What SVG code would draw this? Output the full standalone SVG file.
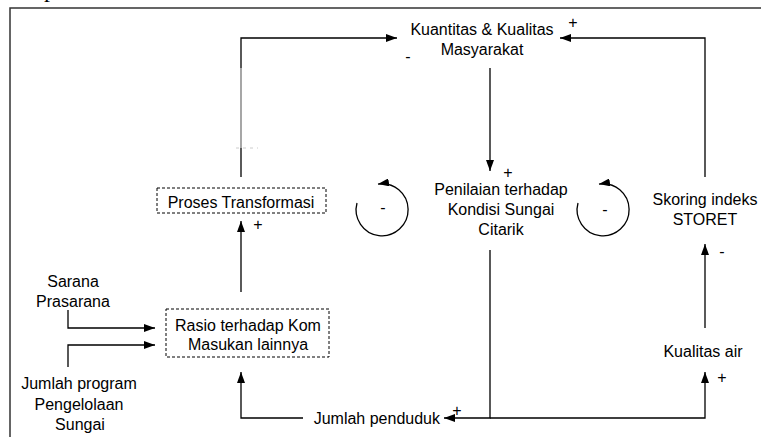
<svg xmlns="http://www.w3.org/2000/svg" width="761" height="437" viewBox="0 0 761 437">
<style>
text{font-family:"Liberation Sans",Arial,sans-serif;font-size:16px;fill:#000;text-anchor:middle}
.c{fill:none;stroke:#000;stroke-width:1.3}
.a{marker-end:url(#ah)}
.box{fill:none;stroke:#000;stroke-width:1;stroke-dasharray:3,2}
.frame{fill:none;stroke:#333;stroke-width:1.5}
</style>
<defs>
<marker id="ah" markerUnits="userSpaceOnUse" markerWidth="11" markerHeight="8" refX="11" refY="4" orient="auto">
<path d="M0,0 L11,4 L0,8 z" fill="#000"/>
</marker>
</defs>
<rect width="761" height="437" fill="#fff"/>
<text x="50" y="-3" style="font-family:'Liberation Serif',serif;font-size:24px">p</text>
<path class="frame" d="M10,437 V8 H761"/>

<g id="connectors">
<path class="c" d="M241,177 V148"/>
<path d="M241,148 V68" fill="none" stroke="#777" stroke-width="1.3"/>
<path d="M236,148 H258" fill="none" stroke="#ccc" stroke-width="1" stroke-dasharray="3,4"/>
<path class="c a" d="M241,68 V38 H397"/>
<path class="c a" d="M490,68 V171"/>
<path class="c a" d="M705,177 V38 H560"/>
<path class="c a" d="M705,328 V244"/>
<path class="c a" d="M490,250 V418 H444"/>
<path class="c a" d="M490,418 H705 V372"/>
<path class="c a" d="M303,418 H241 V372"/>
<path class="c a" d="M241,292 V221"/>
<path class="c a" d="M68,310 V328 H155"/>
<path class="c a" d="M68,367 V345 H155"/>
<path class="c a" d="M357,203 A26,26 0 1 0 378,184.1"/>
<path class="c a" d="M578,203 A26,26 0 1 0 599,184.1"/>
<text x="408" y="62">-</text>
<text x="573" y="28">+</text>
<text x="508" y="178">+</text>
<text x="258" y="230">+</text>
<text x="722" y="257">-</text>
<text x="722" y="383">+</text>
<text x="457" y="416">+</text>
<text x="383" y="213">-</text>
<text x="605" y="215">-</text>
</g>

<g id="kuantitas">
<text x="482" y="35">Kuantitas &amp; Kualitas</text>
<text x="482" y="55">Masyarakat</text>
</g>
<g id="penilaian">
<text x="501" y="195">Penilaian terhadap</text>
<text x="501" y="215">Kondisi Sungai</text>
<text x="501" y="235">Citarik</text>
</g>
<g id="skoring">
<text x="705" y="205">Skoring indeks</text>
<text x="705" y="225">STORET</text>
</g>
<g id="kualitas-air">
<text x="703" y="357">Kualitas air</text>
</g>
<g id="proses">
<rect class="box" x="157" y="188" width="169" height="25"/>
<text x="241" y="208">Proses Transformasi</text>
</g>
<g id="rasio">
<rect class="box" x="166" y="309" width="163" height="48"/>
<text x="248" y="331">Rasio terhadap Kom</text>
<text x="248" y="350">Masukan lainnya</text>
</g>
<g id="sarana">
<text x="73" y="287">Sarana</text>
<text x="73" y="307">Prasarana</text>
</g>
<g id="jumlah-program">
<text x="79" y="389">Jumlah program</text>
<text x="79" y="410">Pengelolaan</text>
<text x="80" y="430">Sungai</text>
</g>
<g id="jumlah-penduduk">
<text x="440" y="424" style="text-anchor:end">Jumlah penduduk</text>
</g>
</svg>
